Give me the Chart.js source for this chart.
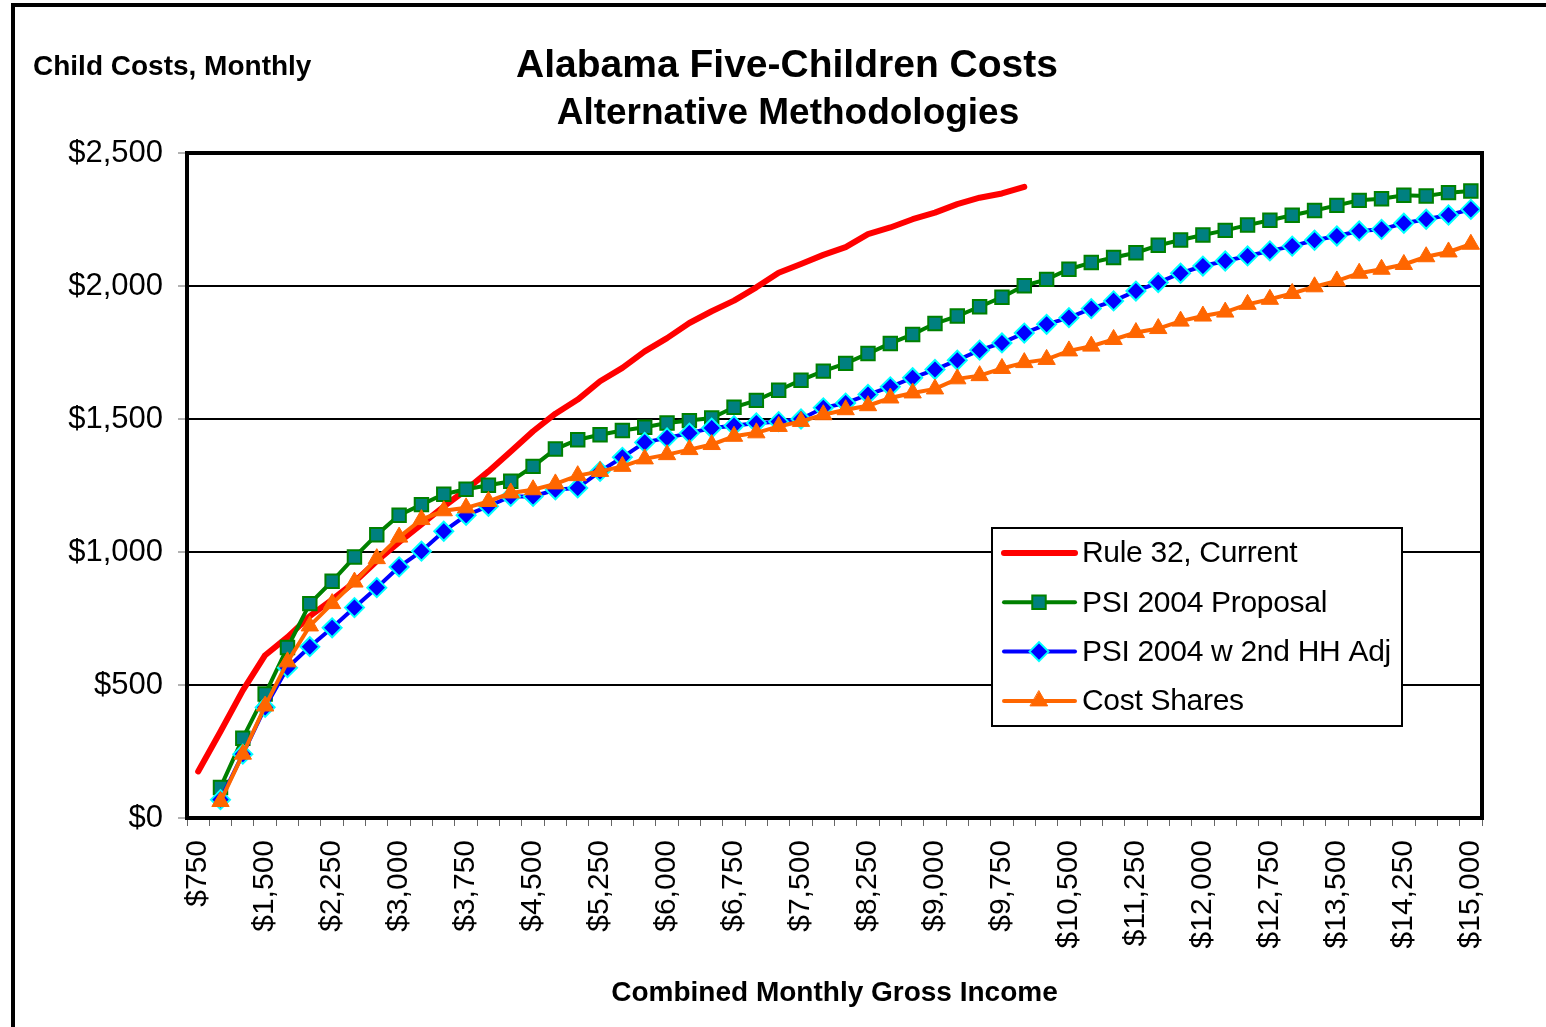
<!DOCTYPE html>
<html>
<head>
<meta charset="utf-8">
<script src="https://cdn.jsdelivr.net/npm/chart.js@4.4.1/dist/chart.umd.min.js"></script>
<style>
    body { margin: 0; background: #fff; }
    #wrap { position: relative; width: 1546px; height: 1027px; }
    #frame {
        position: absolute; left: 11px; top: 3px; right: -10px; bottom: -10px;
        border-left: 4px solid #000; border-top: 4px solid #000;
        pointer-events: none;
    }
</style>
</head>
<body>
<div id="wrap">
    <canvas id="costChart" width="1546" height="1027"></canvas>
    <div id="frame"></div>
</div>
<script>
// combined monthly gross income, one category every $250
const incomes = [
    750, 1000, 1250, 1500, 1750, 2000, 2250, 2500, 2750, 3000,
    3250, 3500, 3750, 4000, 4250, 4500, 4750, 5000, 5250, 5500,
    5750, 6000, 6250, 6500, 6750, 7000, 7250, 7500, 7750, 8000,
    8250, 8500, 8750, 9000, 9250, 9500, 9750, 10000, 10250, 10500,
    10750, 11000, 11250, 11500, 11750, 12000, 12250, 12500, 12750, 13000,
    13250, 13500, 13750, 14000, 14250, 14500, 14750, 15000
];

const rule32 = [
    175, 325, 480, 612, 680, 759, 821, 887, 966, 1037,
    1104, 1171, 1234, 1303, 1378, 1454, 1520, 1573, 1642, 1692,
    1754, 1804, 1861, 1905, 1945, 1995, 2050, 2083, 2117, 2146,
    2195, 2220, 2251, 2276, 2308, 2332, 2348, 2373, null, null,
    null, null, null, null, null, null, null, null, null, null,
    null, null, null, null, null, null, null, null
];

const psiProposal = [
    null, 115, 300, 466, 641, 806, 890, 981, 1065, 1138,
    1178, 1217, 1236, 1251, 1266, 1322, 1387, 1422, 1441, 1457,
    1469, 1485, 1494, 1504, 1544, 1570, 1608, 1646, 1680, 1709,
    1746, 1784, 1818, 1859, 1887, 1922, 1958, 2001, 2025, 2063,
    2088, 2107, 2125, 2153, 2173, 2192, 2209, 2229, 2247, 2266,
    2284, 2303, 2322, 2328, 2341, 2338, 2351, 2357
];

const psiHHAdj = [
    null, 69, 240, 416, 565, 644, 715, 791, 866, 944,
    1003, 1078, 1138, 1172, 1209, 1209, 1234, 1241, 1303, 1356,
    1412, 1429, 1447, 1466, 1475, 1485, 1490, 1500, 1542, 1560,
    1592, 1621, 1655, 1686, 1721, 1759, 1786, 1823, 1856, 1881,
    1915, 1944, 1981, 2013, 2048, 2075, 2094, 2113, 2132, 2150,
    2172, 2188, 2207, 2213, 2236, 2251, 2267, 2288
];

const costShares = [
    null, 62, 240, 421, 587, 722, 806, 887, 975, 1056,
    1122, 1155, 1166, 1190, 1222, 1234, 1256, 1287, 1303, 1322,
    1350, 1366, 1385, 1404, 1435, 1448, 1472, 1491, 1516, 1535,
    1550, 1579, 1598, 1613, 1651, 1663, 1690, 1712, 1724, 1756,
    1774, 1799, 1825, 1840, 1868, 1887, 1902, 1931, 1950, 1972,
    1997, 2019, 2048, 2063, 2081, 2110, 2128, 2157
];

const FONT = '"Liberation Sans", Arial, sans-serif';
const money = v => '$' + Number(v).toLocaleString('en-US');

// titles, the border round the plot and the boxed legend
const decorations = {
    id: 'decorations',
    afterDraw(chart) {
        const { ctx, chartArea } = chart;
        ctx.save();

        ctx.fillStyle = '#000';
        ctx.textBaseline = 'alphabetic';
        ctx.textAlign = 'center';
        ctx.font = 'bold 39px ' + FONT;
        ctx.fillText('Alabama Five-Children Costs', 787, 77);
        ctx.font = 'bold 37px ' + FONT;
        ctx.fillText('Alternative Methodologies', 788, 124);
        ctx.textAlign = 'left';
        ctx.font = 'bold 28px ' + FONT;
        ctx.fillText('Child Costs, Monthly', 33, 75);

        ctx.lineWidth = 4;
        ctx.strokeStyle = '#000';
        ctx.strokeRect(chartArea.left, chartArea.top,
            chartArea.right - chartArea.left, chartArea.bottom - chartArea.top);

        const x0 = chartArea.right - 490;
        const y0 = chartArea.top + 375;
        ctx.fillStyle = '#fff';
        ctx.fillRect(x0, y0, 410, 198);
        ctx.lineWidth = 2;
        ctx.strokeRect(x0, y0, 410, 198);

        chart.data.datasets.forEach((ds, i) => {
            const y = y0 + 25 + i * 49.3;
            ctx.strokeStyle = ds.borderColor;
            ctx.lineWidth = ds.borderWidth;
            ctx.lineCap = 'round';
            ctx.beginPath();
            ctx.moveTo(x0 + 12, y);
            ctx.lineTo(x0 + 83, y);
            ctx.stroke();
            if (ds.pointRadius > 0) {
                ctx.fillStyle = ds.pointBackgroundColor;
                ctx.strokeStyle = ds.pointBorderColor;
                ctx.lineWidth = ds.pointBorderWidth;
                Chart.helpers.drawPoint(ctx, {
                    pointStyle: ds.pointStyle,
                    radius: ds.pointRadius,
                    borderWidth: ds.pointBorderWidth,
                    rotation: 0
                }, x0 + 47, y);
            }
            ctx.fillStyle = '#000';
            ctx.font = '30px ' + FONT;
            ctx.letterSpacing = '-0.3px';
            ctx.textBaseline = 'middle';
            ctx.fillText(ds.label, x0 + 90, y + 1);
            ctx.letterSpacing = '0px';
        });
        ctx.restore();
    }
};

new Chart(document.getElementById('costChart'), {
    type: 'line',
    data: {
        labels: incomes.map(money),
        datasets: [
            {
                label: 'Rule 32, Current',
                data: rule32,
                borderColor: '#FF0000',
                borderWidth: 6,
                pointRadius: 0,
                borderCapStyle: 'round',
                borderJoinStyle: 'round',
                order: 4
            },
            {
                label: 'PSI 2004 Proposal',
                data: psiProposal,
                borderColor: '#008000',
                borderWidth: 4,
                pointStyle: 'rect',
                pointRadius: 9.5,
                pointBackgroundColor: '#008080',
                pointBorderColor: '#008000',
                pointBorderWidth: 2,
                order: 3
            },
            {
                label: 'PSI 2004 w 2nd HH Adj',
                data: psiHHAdj,
                borderColor: '#0000FF',
                borderWidth: 4,
                pointStyle: 'rectRot',
                pointRadius: 9.5,
                pointBackgroundColor: '#0000FF',
                pointBorderColor: '#00FFFF',
                pointBorderWidth: 2,
                order: 2
            },
            {
                label: 'Cost Shares',
                data: costShares,
                borderColor: '#FF6600',
                borderWidth: 4,
                pointStyle: 'triangle',
                pointRadius: 10,
                pointBackgroundColor: '#FF6600',
                pointBorderColor: '#FF6600',
                pointBorderWidth: 1,
                order: 1
            }
        ]
    },
    options: {
        responsive: false,
        animation: false,
        devicePixelRatio: 1,
        layout: { padding: { top: 153, right: 64, left: 0, bottom: 0 } },
        plugins: {
            legend: { display: false },
            tooltip: { enabled: false },
            title: { display: false }
        },
        scales: {
            x: {
                offset: true,
                afterFit: s => { s.height = 209; },
                grid: {
                    offset: true,
                    drawOnChartArea: false,
                    tickLength: 8,
                    tickColor: '#666',
                    tickWidth: 1
                },
                border: { display: true, color: '#000', width: 4 },
                ticks: {
                    autoSkip: false,
                    minRotation: 90,
                    maxRotation: 90,
                    padding: 14,
                    color: '#000',
                    font: { family: FONT, size: 30 },
                    callback: (v, i) => i % 3 === 0 ? money(incomes[i]) : ''
                },
                title: {
                    display: true,
                    text: 'Combined Monthly Gross Income',
                    color: '#000',
                    font: { family: FONT, size: 28, weight: 'bold' },
                    padding: { top: 0, bottom: 17 }
                }
            },
            y: {
                min: 0,
                max: 2500,
                afterFit: s => { s.width = 187; },
                grid: {
                    color: '#000',
                    lineWidth: 2,
                    tickLength: 9,
                    tickColor: '#666',
                    tickWidth: 1
                },
                border: { display: true, color: '#000', width: 4 },
                ticks: {
                    stepSize: 500,
                    padding: 15,
                    color: '#000',
                    font: { family: FONT, size: 31 },
                    callback: v => money(v)
                }
            }
        }
    },
    plugins: [decorations]
});
</script>
</body>
</html>
